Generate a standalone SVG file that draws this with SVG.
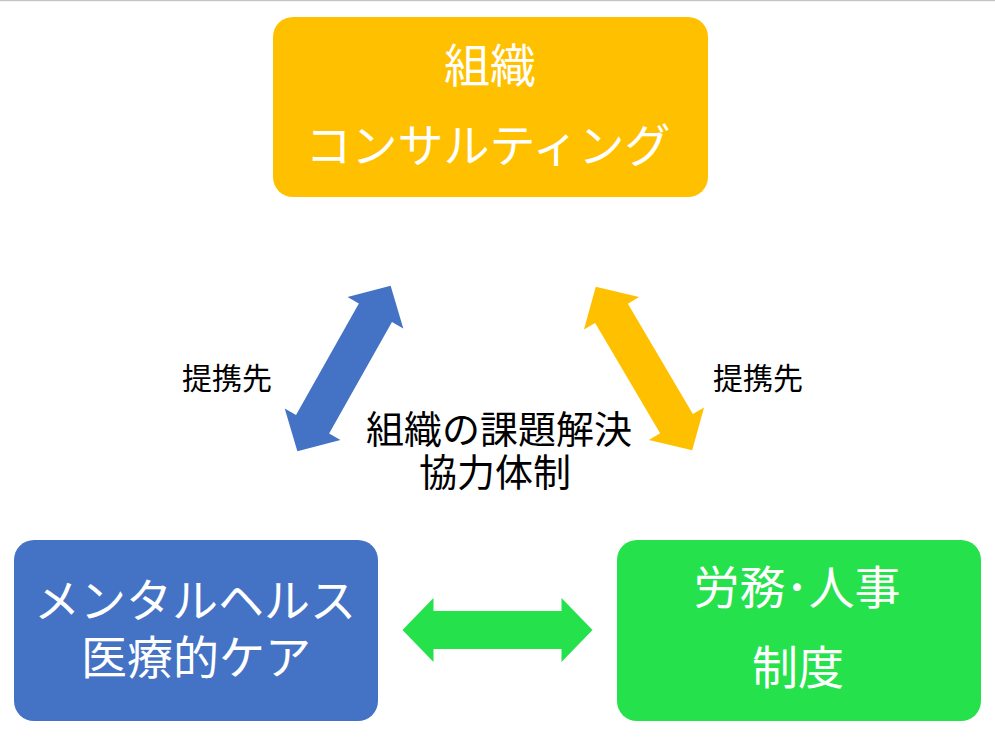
<svg xmlns="http://www.w3.org/2000/svg" width="995" height="751" viewBox="0 0 995 751">
<style>
text{font-family:"Noto Sans CJK JP","Noto Sans",sans-serif;text-anchor:middle}
.w{fill:#ffffff;font-size:46px}
.b{fill:#000000}
</style>
<defs>
<path id="dbl" d="M-95,0 L-64,-32 L-64,-19 L64,-19 L64,-32 L95,0 L64,32 L64,19 L-64,19 L-64,32 Z"/>
</defs>
<rect x="0" y="0" width="995" height="1.2" fill="#c4c4c4"/>
<g id="connectors">
<use href="#dbl" fill="#4472C4" transform="translate(344,368.5) rotate(-60.6)"/>
<use href="#dbl" fill="#FFC000" transform="translate(644,368.5) rotate(59.5)"/>
<use href="#dbl" fill="#25E14B" transform="translate(497.5,630)"/>
</g>
<g id="node-consulting">
<rect x="273" y="17" width="435" height="180" rx="20" fill="#FFC000"/>
<text class="w" x="490" y="82">組織</text>
<text class="w" x="488" y="162" font-size="42">コンサルティング</text>
</g>
<g id="node-mental">
<rect x="14" y="540" width="364" height="181" rx="20" fill="#4472C4"/>
<text class="w" x="195" y="617" font-size="44">メンタルヘルス</text>
<text class="w" x="196" y="674">医療的ケア</text>
</g>
<g id="node-labor">
<rect x="617" y="540" width="364" height="181" rx="20" fill="#25E14B"/>
<text class="w" x="797" y="604">労務･人事</text>
<text class="w" x="798" y="684">制度</text>
</g>
<g id="labels">
<text class="b" x="227" y="389" font-size="30">提携先</text>
<text class="b" x="758" y="389" font-size="30">提携先</text>
<text class="b" x="499" y="443" font-size="38">組織の課題解決</text>
<text class="b" x="495" y="486" font-size="38">協力体制</text>
</g>
</svg>
